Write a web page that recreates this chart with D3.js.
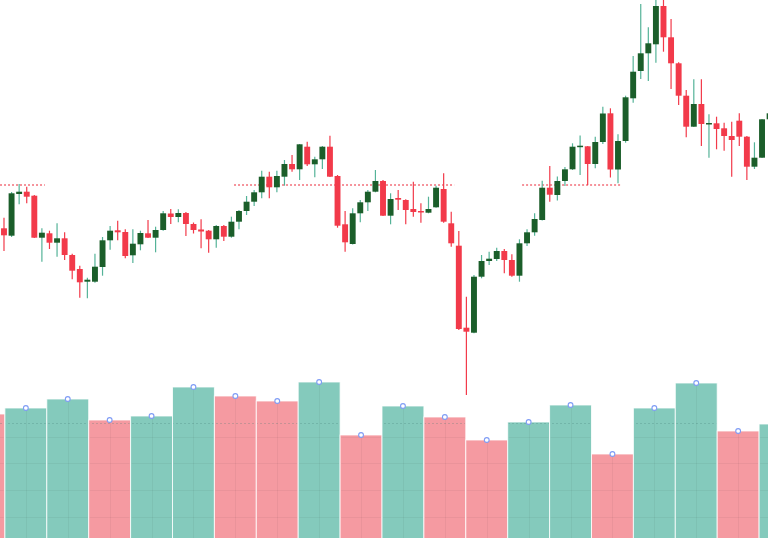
<!DOCTYPE html>
<html>
<head>
<meta charset="utf-8">
<script src="https://cdn.jsdelivr.net/npm/d3@7"></script>
<style>
html,body{margin:0;padding:0;background:#fff;}
svg{display:block;}
</style>
</head>
<body>
<svg id="chart" width="768" height="538"></svg>
<script>
// ---- Candle data (price units) ----
const openP = [117.17,116.43,120.6,120.83,120.43,116.23,116.67,115.73,116.17,114.5,
113.1,111.83,111.83,113.3,115.97,116.97,116.8,114.47,115.57,116.67,
116.23,117.0,118.65,118.3,118.7,117.6,117.05,116.93,116.07,117.4,
116.33,117.83,118.9,119.83,120.77,122.33,121.27,122.33,123.6,123.07,
125.33,123.57,124.07,125.33,122.4,117.57,115.6,118.67,119.77,120.83,
121.9,118.43,120.2,120.0,119.1,118.9,118.73,119.27,121.1,117.67,
115.43,107.23,106.73,112.33,113.9,114.1,114.9,114.0,112.43,115.67,
116.77,118.0,121.23,120.5,121.9,123.07,125.3,125.37,123.6,125.8,
128.67,123.05,125.9,130.17,132.9,134.67,135.57,139.4,136.27,133.67,
130.43,127.33,129.6,127.6,127.67,127.17,126.4,127.93,126.33,123.33,
124.23,128.07];
const highP = [118.23,120.8,121.6,121.33,120.5,117.17,116.93,117.67,116.77,114.63,
113.43,112.23,114.63,116.3,117.4,117.93,117.07,117.07,116.93,118.0,
117.33,118.9,119.1,119.07,118.8,117.75,118.07,117.0,117.5,117.5,
118.33,119.0,120.4,121.0,122.93,122.83,122.93,124.0,124.5,125.6,
125.83,124.33,125.4,126.43,122.5,118.9,119.17,120.0,121.0,123.0,
122.0,120.67,121.0,120.07,121.83,119.67,120.33,121.43,122.67,118.83,
116.9,110.33,112.5,114.5,114.83,115.23,115.1,114.57,116.07,117.07,
118.67,121.93,123.4,122.35,123.3,125.67,126.45,125.4,126.33,129.33,
129.17,126.57,130.43,134.4,139.6,137.27,140.2,140.2,138.1,133.77,
131.0,132.07,132.07,128.57,128.33,127.73,127.83,128.67,126.4,125.77,
128.1,129.2];
const lowP = [114.9,116.3,119.57,119.67,116.2,113.83,115.1,114.33,114.0,112.07,
110.23,110.17,111.73,112.43,115.03,115.97,114.17,113.7,114.97,116.2,
114.77,116.93,117.6,117.77,116.4,116.65,115.17,114.73,115.23,115.9,
116.23,117.07,118.5,119.4,120.17,120.17,120.77,121.43,122.83,122.0,
123.4,122.27,123.1,122.3,117.23,114.83,115.55,117.77,118.9,120.77,
118.4,117.57,119.0,117.57,118.33,117.73,118.67,119.23,117.73,115.33,
107.0,100.5,106.67,112.17,113.5,113.9,112.67,112.33,111.83,115.4,
116.43,117.95,119.83,119.95,121.4,123.0,122.5,121.5,123.17,125.6,
122.25,121.67,125.73,129.73,132.1,131.9,133.73,134.83,131.1,129.5,
126.27,127.3,125.4,124.23,125.07,124.93,122.33,125.4,122.0,123.1,
124.2,126.83];
const closeP = [116.47,120.67,120.83,120.33,116.23,116.73,115.73,116.17,114.5,112.93,
111.77,112.03,113.33,115.97,116.93,116.77,114.4,115.63,116.7,116.23,
117.0,118.67,118.3,118.7,117.6,117.0,116.85,116.07,117.4,116.33,
117.83,118.9,119.83,120.77,122.33,121.27,122.4,123.6,123.07,125.57,
123.57,124.07,125.33,122.33,117.43,115.77,118.67,119.77,120.83,121.9,
118.43,120.1,120.03,119.0,118.8,118.77,119.1,121.23,117.83,115.67,
107.1,106.83,112.33,113.9,114.13,114.9,114.0,112.43,115.67,116.77,
118.1,121.23,120.53,121.9,123.07,125.33,125.43,123.6,125.8,128.65,
123.05,125.9,130.27,132.83,134.67,135.67,139.4,136.27,133.67,130.43,
127.33,129.6,127.6,127.7,127.1,126.4,126.0,126.33,123.33,124.23,
128.07,128.67];

// ---- Reference level lines (price, from candle, to candle) ----
const levelPrice = [121.5, 121.5, 121.5];
const levelFrom  = [0, 31, 69];
const levelTo    = [5, 59, 81];

// ---- Volume data ----
const volume = [124,130,139,118,122,151,142,137,156,103,132,121,98,116,133,84,130,155,107,114];
const volumeDir = ["down","up","up","down","up","up","down","down","up","down","up","down","down","up","up","down","up","up","down","up"];

const W = 768, H = 538;
const svg = d3.select("#chart");

const x = d3.scaleBand().domain(d3.range(openP.length)).range([0.2, 773.4]).paddingInner(0.22).paddingOuter(0.11);
const y = d3.scaleLinear().domain([100, 140]).range([400, 0]);

const xv = d3.scaleBand().domain(d3.range(volume.length)).range([-37, 801]);
const yv = d3.scaleLinear().domain([0, 200]).range([538, 338]);

const GREEN_BODY = "#1b5e2a", GREEN_WICK = "#55b398", RED = "#f23a4a";
const VOL_UP = "#84cabc", VOL_DOWN = "#f59aa1";

// clip path equal to the volume bars
const defs = svg.append("defs");
defs.append("clipPath").attr("id", "volclip")
  .selectAll("rect").data(volume).join("rect")
  .attr("x", (d,i) => xv(i) + 1)
  .attr("y", d => yv(d) + 1)
  .attr("width", xv.bandwidth() - 2)
  .attr("height", d => yv(0) - yv(d) + 2);

// volume bars
const vg = svg.append("g");
vg.selectAll("rect").data(volume).join("rect")
  .attr("x", (d,i) => xv(i))
  .attr("y", d => yv(d))
  .attr("width", xv.bandwidth())
  .attr("height", d => yv(0) - yv(d) + 2)
  .attr("fill", (d,i) => volumeDir[i] === "up" ? VOL_UP : VOL_DOWN)
  .attr("stroke", "#ffffff")
  .attr("stroke-opacity", 0.8)
  .attr("stroke-width", 1);

// faint grid, visible only inside bars
const gg = svg.append("g").attr("clip-path", "url(#volclip)");
[437, 463, 490, 517].forEach(v => gg.append("line").attr("x1",0).attr("x2",W).attr("y1",v+0.5).attr("y2",v+0.5)
  .attr("stroke","rgba(0,0,0,0.045)"));
gg.append("line").attr("x1",0).attr("x2",W).attr("y1",423.5).attr("y2",423.5)
  .attr("stroke","rgba(60,120,110,0.25)").attr("stroke-dasharray","2,2");
volume.forEach((d,i) => {
  const cx = Math.round(xv(i) + xv.bandwidth()/2) + 0.5;
  gg.append("line").attr("x1",cx).attr("x2",cx).attr("y1",yv(d)).attr("y2",H)
    .attr("stroke","rgba(0,0,0,0.045)");
});

// markers
svg.append("g").selectAll("circle").data(volume).join("circle")
  .attr("cx", (d,i) => xv(i) + xv.bandwidth()/2)
  .attr("cy", d => yv(d))
  .attr("r", 2.4)
  .attr("fill", "#ffffff")
  .attr("stroke", "#7f9cf5")
  .attr("stroke-width", 1.1);

// level lines
levelPrice.forEach((p,k) => {
  svg.append("line")
    .attr("x1", x(levelFrom[k]) - (k===0 ? 1 : 2))
    .attr("x2", x(levelTo[k]) + x.bandwidth())
    .attr("y1", y(p))
    .attr("y2", y(p))
    .attr("stroke", "#f2707b")
    .attr("stroke-width", 1.6)
    .attr("stroke-dasharray", "2,2");
});

// candles
const cg = svg.append("g");
openP.forEach((o,i) => {
  const c = closeP[i], hi = highP[i], lo = lowP[i];
  const up = c >= o;
  const cx = x(i) + x.bandwidth()/2;
  cg.append("line")
    .attr("x1", cx).attr("x2", cx)
    .attr("y1", y(hi)).attr("y2", y(lo))
    .attr("stroke", up ? GREEN_WICK : RED)
    .attr("stroke-width", 1.2);
  const top = y(Math.max(o,c)), bot = y(Math.min(o,c));
  cg.append("rect")
    .attr("x", x(i))
    .attr("y", top)
    .attr("width", x.bandwidth())
    .attr("height", Math.max(1.5, bot - top))
    .attr("fill", up ? GREEN_BODY : RED);
});
</script>
</body>
</html>
